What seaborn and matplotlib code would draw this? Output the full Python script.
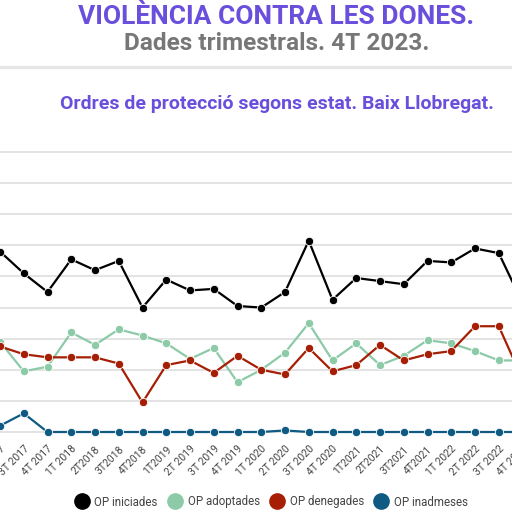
import matplotlib
matplotlib.use("Agg")
import matplotlib.pyplot as plt
import seaborn as sns
import pandas as pd
from matplotlib.lines import Line2D

quarters = ["2T 2017", "3T 2017", "4T 2017", "1T 2018", "2T2018", "3T2018", "4T2018",
            "1T2019", "2T 2019", "3T 2019", "4T 2019", "1T 2020", "2T 2020", "3T 2020",
            "4T 2020", "1T2021", "2T2021", "3T2021", "4T2021", "1T 2022", "2T 2022",
            "3T 2022", "4T 2022"]
iniciades = [116, 102, 90, 111, 104, 110, 80, 98, 91, 92, 81, 80, 90, 123, 85, 99, 97, 95,
             110, 109, 118, 115, 83]
adoptades = [58, 39, 42, 64, 56, 66, 62, 57, 47, 54, 32, 40, 51, 70, 46, 57, 43, 49,
             59, 57, 52, 46, 46]
denegades = [55, 50, 48, 48, 48, 44, 19, 43, 46, 38, 49, 40, 37, 54, 39, 43, 56, 46,
             50, 52, 68, 68, 34]
inadmeses = [4, 12, 0, 0, 0, 0, 0, 0, 0, 0, 0, 0, 1, 0, 0, 0, 0, 0, 0, 0, 0, 0, 0]

series_names = ["OP iniciades", "OP adoptades", "OP denegades", "OP inadmeses"]
colors = ["#000000", "#8ccaa8", "#a61f05", "#0f5a82"]

sns.set_theme(style="white")
plt.rcParams['font.family'] = ['Roboto', 'DejaVu Sans']

fig = plt.figure(figsize=(5.12, 5.12), dpi=100)

# x pixel of index i = 23.75*i
step = 23.75
xl, xr = -1.5, 23.5
ax_left = xl * step / 512
ax_width = (xr - xl) * step / 512
ylo, yhi = -5, 185
ppu = 280 / 180
bot_px = 432 + 5 * ppu
top_px = 152 - 5 * ppu
ax = fig.add_axes([ax_left, (512 - bot_px) / 512, ax_width, (bot_px - top_px) / 512])

x = list(range(len(quarters)))
for name, vals, c in zip(series_names, [iniciades, adoptades, denegades, inadmeses], colors):
    df = pd.DataFrame({"x": x, "y": vals})
    sns.lineplot(data=df, x="x", y="y", ax=ax, color=c, marker="o", markersize=6,
                 markeredgecolor="white", markeredgewidth=0.6, linewidth=1.6, zorder=3)

ax.set_xlim(xl, xr)
ax.set_ylim(ylo, yhi)
ax.set_yticks(range(0, 181, 20))
ax.set_yticklabels([])
ax.tick_params(axis='y', length=0)
ax.grid(axis='y', color='#e3e3e3', linewidth=1.4, zorder=0)
ax.grid(axis='x', visible=False)
for s in ax.spines.values():
    s.set_visible(False)
ax.set_xticks(x)
ax.set_xticklabels(quarters, rotation=45, ha='right', rotation_mode='anchor',
                   fontsize=7.5, color='#444444')
ax.tick_params(axis='x', length=0, pad=3)
ax.set_xlabel("")
ax.set_ylabel("")

fig.text(0.54, 1 - 17 / 512, "VIOLÈNCIA CONTRA LES DONES.", ha='center', va='center',
         fontsize=19, fontweight='bold', color='#6a4fdc')
fig.text(0.54, 1 - 43 / 512, "Dades trimestrals. 4T 2023.", ha='center', va='center',
         fontsize=17.6, fontweight='bold', color='#777777')
fig.add_artist(Line2D([0, 1], [1 - 66.5 / 512, 1 - 66.5 / 512], color='#e6e6e6',
                      linewidth=2.5, transform=fig.transFigure))
fig.text(0.54, 1 - 104 / 512, "Ordres de protecció segons estat. Baix Llobregat.",
         ha='center', va='center', fontsize=14, fontweight='bold', color='#6a4fdc')

handles = [Line2D([], [], linestyle='none', marker='o', markersize=11, color=c,
                  markeredgecolor=c) for c in colors]
fig.legend(handles, series_names, loc='center', bbox_to_anchor=(0.53, 1 - 502 / 512),
           ncol=4, frameon=False, fontsize=8.3, handletextpad=0.5, columnspacing=0.9,
           labelcolor='#444444', handlelength=1.2)

fig.savefig("out.png", dpi=100)
